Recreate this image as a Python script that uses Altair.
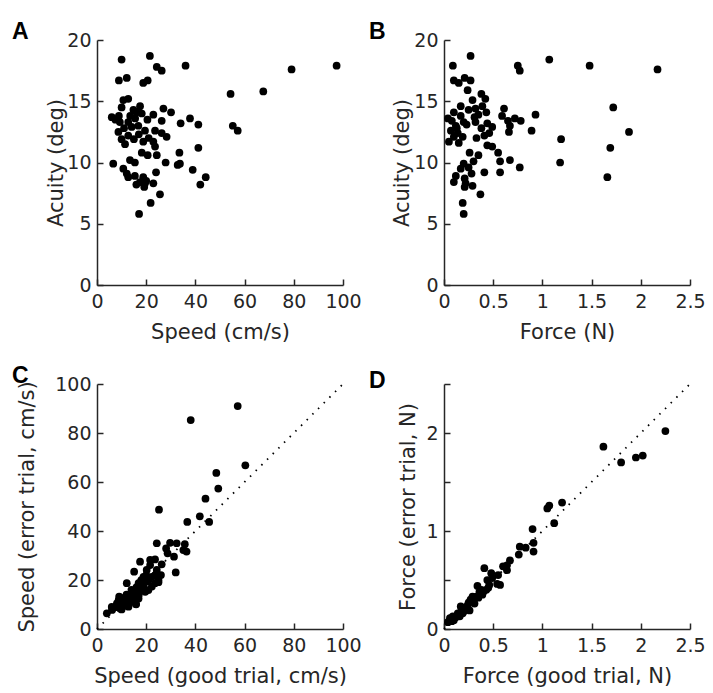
import altair as alt
import pandas as pd

# ---------------- Panel A: speed vs acuity ----------------
a_speed = [10.0, 21.5, 24.3, 26.3, 36.0, 8.9, 12.1, 18.8, 20.6, 10.7, 12.7, 10.0, 6.0, 8.9, 14.8,
           17.5, 16.1, 18.2, 22.9, 27.0, 30.1, 26.3, 34.0, 37.8, 41.2, 12.7, 9.3, 14.1, 16.8, 19.5,
           23.6, 26.3, 28.3, 8.7, 12.7, 10.0, 11.4, 18.8, 22.9, 23.6, 41.2, 18.2, 20.6, 24.3, 33.5,
           27.9, 13.4, 15.4, 6.6, 32.8, 33.7, 38.9, 10.7, 12.1, 12.7, 15.4, 18.8, 17.5, 19.5, 19.2,
           22.9, 24.0, 44.2, 42.0, 25.6, 21.8, 17.1, 54.3, 67.6, 79.1, 97.4, 55.2, 57.2,
           15.5, 13.5, 17.0, 20.5, 11.0, 15.0, 21.0, 7.5, 16.0, 20.0]
a_acuity = [18.4, 18.7, 17.8, 17.5, 17.9, 16.7, 16.9, 16.5, 16.7, 15.1, 15.2, 14.5, 13.7, 13.8, 14.3,
            14.6, 14.1, 14.0, 13.9, 14.4, 14.1, 13.4, 13.2, 13.6, 13.1, 13.3, 13.3, 12.9, 13.0, 12.6,
            12.6, 12.4, 12.1, 12.5, 12.2, 11.9, 11.5, 11.7, 11.7, 11.3, 11.2, 10.8, 10.6, 10.6, 10.8,
            10.0, 10.2, 10.0, 9.9, 9.8, 9.9, 9.4, 9.5, 9.1, 8.8, 8.9, 8.8, 8.4, 8.3, 8.0,
            8.3, 9.2, 8.8, 8.2, 7.4, 6.7, 5.8, 15.6, 15.8, 17.6, 17.9, 13.0, 12.6,
            13.6, 13.8, 12.3, 13.5, 12.8, 11.9, 12.0, 13.5, 8.2, 8.5]

# ---------------- Panel B: force vs acuity ----------------
b_force = [0.27, 0.09, 0.75, 0.77, 1.07, 0.10, 0.15, 0.21, 0.27, 0.24, 0.38, 0.42, 0.29, 0.17, 0.10,
           0.04, 0.17, 0.25, 0.32, 0.39, 0.43, 0.31, 0.32, 0.23, 0.12, 0.07, 0.14, 0.19, 0.10, 0.05,
           0.15, 0.44, 0.49, 0.38, 0.41, 0.46, 0.61, 0.59, 0.65, 0.72, 0.78, 0.67, 0.66, 0.93, 0.89,
           0.44, 0.49, 0.55, 0.26, 0.35, 0.30, 0.20, 0.17, 0.25, 0.57, 0.67, 0.41, 0.57, 0.77, 0.12,
           0.10, 0.21, 0.22, 0.21, 0.29, 0.37, 0.19, 0.20, 1.48, 2.17, 1.72, 1.88, 1.19, 1.69, 1.18, 1.66,
           0.20, 0.13, 0.35, 0.28, 0.08, 0.33]
b_acuity = [18.7, 17.9, 17.9, 17.5, 18.4, 16.7, 16.5, 16.9, 16.7, 15.9, 15.6, 15.2, 15.1, 14.6, 14.1,
            13.6, 13.8, 14.3, 14.4, 14.6, 14.1, 13.7, 13.3, 13.1, 13.0, 12.6, 12.4, 12.1, 12.1, 11.7,
            11.6, 13.2, 12.9, 12.8, 12.2, 12.4, 14.4, 13.8, 13.4, 13.6, 13.4, 13.0, 12.5, 13.9, 12.6,
            11.4, 11.3, 10.8, 10.8, 10.6, 10.1, 9.9, 9.5, 9.6, 10.1, 10.2, 9.2, 9.2, 9.6, 8.9,
            8.4, 8.7, 8.3, 8.0, 8.1, 7.4, 6.7, 5.8, 17.9, 17.6, 14.5, 12.5, 11.9, 11.2, 10.0, 8.8,
            13.3, 12.8, 13.9, 9.1, 13.4, 12.0]

# ---------------- Panel C: speed good vs error trial ----------------
c_good = [38.1, 57.2, 60.3, 48.5, 49.3, 44.1, 25.2, 41.8, 36.7, 45.6, 24.3, 29.7, 32.4, 35.7, 28.1,
          35.1, 36.4, 28.7, 31.3, 26.3, 32.0, 23.6, 21.6, 17.5, 15.1, 20.2, 23.6, 25.0, 12.1, 16.9,
          20.2, 17.5, 14.2, 19.6, 22.3, 9.4, 11.5, 14.9, 12.8, 15.9, 9.4, 7.4, 6.1, 4.0, 8.1,
          10.8, 13.5, 16.2, 18.9, 22.3, 18.2, 20.9, 15.5, 16.9, 13.5, 8.8, 23.6, 24.3, 21.6, 15.8,
          9.0, 25.0, 11.0, 13.0, 17.0, 19.0, 21.0, 14.0, 18.0, 20.0, 26.0, 12.0, 10.0, 6.0, 16.0]
c_error = [85.3, 91.0, 66.8, 63.7, 57.3, 53.2, 48.7, 46.0, 43.7, 43.7, 35.0, 35.2, 35.0, 34.6, 32.9,
           32.2, 31.6, 30.9, 29.5, 26.4, 23.1, 28.4, 28.2, 27.5, 23.4, 24.1, 22.0, 20.0, 18.7, 18.7,
           19.3, 15.9, 14.6, 15.2, 17.3, 12.9, 11.8, 11.8, 9.1, 10.1, 8.4, 8.9, 7.8, 6.4, 10.5,
           10.5, 13.2, 16.6, 21.3, 21.3, 18.0, 15.9, 13.9, 12.5, 11.1, 11.8, 18.7, 24.1, 26.1, 10.2,
           13.2, 19.1, 9.5, 12.0, 14.0, 17.0, 20.0, 16.0, 20.0, 22.0, 22.0, 14.0, 8.0, 9.0, 17.0]

# ---------------- Panel D: force good vs error trial ----------------
d_good = [2.25, 1.62, 1.80, 1.95, 2.02, 1.20, 1.07, 1.05, 1.12, 0.90, 0.91, 0.91, 0.77, 0.83, 0.76,
          0.67, 0.64, 0.60, 0.64, 0.55, 0.57, 0.54, 0.41, 0.48, 0.44, 0.34, 0.43, 0.39, 0.33, 0.27,
          0.24, 0.26, 0.17, 0.14, 0.09, 0.04, 0.19, 0.31, 0.36, 0.49, 0.10, 0.21, 0.29, 0.38, 0.46,
          0.16, 0.06, 0.12, 0.22, 0.30, 0.35, 0.40, 0.20, 0.25, 0.45, 0.08, 0.18]
d_error = [2.02, 1.86, 1.70, 1.75, 1.77, 1.29, 1.26, 1.23, 1.08, 1.02, 0.88, 0.79, 0.84, 0.83, 0.76,
           0.70, 0.65, 0.64, 0.60, 0.55, 0.45, 0.46, 0.62, 0.57, 0.50, 0.44, 0.40, 0.35, 0.33, 0.30,
           0.24, 0.19, 0.23, 0.16, 0.13, 0.07, 0.16, 0.26, 0.38, 0.52, 0.09, 0.19, 0.33, 0.40, 0.45,
           0.13, 0.11, 0.12, 0.22, 0.28, 0.32, 0.38, 0.18, 0.27, 0.42, 0.08, 0.20]

speed_ticks = [0, 20, 40, 60, 80, 100]
acuity_ticks = [0, 5, 10, 15, 20]
force_ticks = [0, 0.5, 1, 1.5, 2, 2.5]

W, H = 246, 245
AXC = "#262626"
FONT = "DejaVu Sans"
LAB = 19
TIT = 21


def axis(values, fmt, pad, tpad, label_expr=None):
    kw = dict(values=values, ticks=True, tickSize=alt.ExprRef(expr="-6"), tickWidth=1.5,
              tickColor=AXC, grid=False, domainColor=AXC, domainWidth=1.5,
              labelColor=AXC, labelFontSize=LAB, labelFont=FONT, labelPadding=pad,
              titleColor=AXC, titleFontSize=TIT, titleFont=FONT, titleFontWeight="normal",
              titlePadding=tpad, format=fmt, labelFlush=False)
    if label_expr:
        kw["labelExpr"] = label_expr
    return alt.Axis(**kw)


def panel(xs, ys, xdom, ydom, xticks, yticks, xfmt, yfmt, xtitle, ytitle, letter, dx,
          ypad, diag=False, ylabel_expr=None):
    df = pd.DataFrame({"x": xs, "y": ys})
    xscale = alt.Scale(domain=xdom, nice=False, zero=False)
    yscale = alt.Scale(domain=ydom, nice=False, zero=False)
    xaxis = axis(xticks, xfmt, 13, 10)
    yaxis = axis(yticks, yfmt, 12, ypad, ylabel_expr)
    pts = alt.Chart(df).mark_circle(size=60, color="black", opacity=1).encode(
        x=alt.X("x:Q", scale=xscale, title=xtitle, axis=xaxis),
        y=alt.Y("y:Q", scale=yscale, title=ytitle, axis=yaxis),
    )
    layers = [pts]
    if diag:
        dd = pd.DataFrame({"x": [xdom[0], xdom[1]], "y": [ydom[0], ydom[1]]})
        line = alt.Chart(dd).mark_line(color="black", strokeWidth=1.8,
                                       strokeDash=[1.5, 6.5]).encode(
            x=alt.X("x:Q", scale=xscale, title=xtitle, axis=xaxis),
            y=alt.Y("y:Q", scale=yscale, title=ytitle, axis=yaxis))
        layers = [pts, line]
    return alt.layer(*layers).properties(
        width=W, height=H,
        title=alt.TitleParams(letter, anchor="start", frame="group", dx=dx, offset=-13,
                              fontSize=23, fontWeight="bold", font="Liberation Sans",
                              color="black"))


A = panel(a_speed, a_acuity, [0, 100], [0, 20], speed_ticks, acuity_ticks, "d", "d",
          "Speed (cm/s)", "Acuity (deg)", "A", -85, 0)
B = panel(b_force, b_acuity, [0, 2.5], [0, 20], force_ticks, acuity_ticks, "~g", "d",
          "Force (N)", "Acuity (deg)", "B", -75, 1)
C = panel(c_good, c_error, [0, 100], [0, 100], speed_ticks, speed_ticks, "d", "d",
          "Speed (good trial, cm/s)", "Speed (error trial, cm/s)", "C", -85, 17, diag=True)
D = panel(d_good, d_error, [0, 2.5], [0, 2.5], force_ticks, force_ticks, "~g", "~g",
          "Force (good trial, N)", "Force (error trial, N)", "D", -75, 7, diag=True,
          ylabel_expr="datum.value % 1 == 0 ? datum.label : ''")

row1 = alt.hconcat(A, B, spacing=7)
row2 = alt.hconcat(C, D, spacing=7)
chart = alt.vconcat(row1, row2, spacing=23).configure_view(
    stroke=None).properties(background="white",
                            padding={"left": 12, "top": 21, "right": 5, "bottom": 5})

chart.save("out.html", embed_options={"renderer": "svg", "actions": False})
